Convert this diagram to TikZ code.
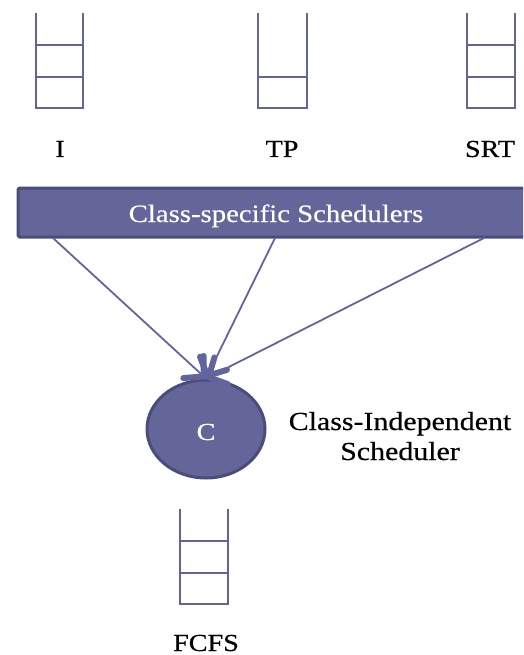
\documentclass[tikz,border=0pt]{standalone}
\usepackage{fontspec}
\setmainfont[FakeStretch=1.15,FakeBold=0.4]{Liberation Serif}
\usetikzlibrary{arrows.meta,shapes.geometric}
\definecolor{slate}{RGB}{98,100,158}
\definecolor{slatefill}{RGB}{100,102,153}
\definecolor{slateedge}{RGB}{74,76,122}
\tikzset{
  x=1pt, y=-1pt,
  qline/.style={draw=slate, line width=2pt},
  lbl/.style={font=\fontsize{24.5}{28}\selectfont, text=black, anchor=base, inner sep=0pt},
  feed/.style={draw=slate, line width=1.8pt,
    -{Straight Barb[length=14pt,width=30pt,line width=6pt,round]}},
}
% a queue drawn as an open-topped box
\newcommand{\queuebox}[4]{% left x, right x, top y, bottom y
  \draw[qline] (#1,#3) -- (#1,#4) -- (#2,#4) -- (#2,#3);
}
\begin{document}
\begin{tikzpicture}
\useasboundingbox (0,0) rectangle (523,655);
\clip (0,0) rectangle (523,655);

% class queues
\queuebox{36}{83}{13}{108}
\draw[qline] (36,45) -- (83,45);
\draw[qline] (36,77) -- (83,77);
\queuebox{258}{307}{13}{108}
\draw[qline] (258,77) -- (307,77);
\queuebox{467}{515}{13}{108}
\draw[qline] (467,45) -- (515,45);
\draw[qline] (467,77) -- (515,77);

\node[lbl] (lI) at (60,157) {I};
\node[lbl] (lTP) at (282,157) {TP};
\node[lbl] (lSRT) at (490,157) {SRT};

% class-specific scheduler bar
\draw[fill=slatefill, draw=slateedge, line width=3pt, rounded corners=1.5pt]
  (18,188) rectangle (540,237);
\node[font=\fontsize{25}{30}\selectfont, text=white, anchor=base, inner sep=0pt]
  (bar) at (276,222) {Class-specific Schedulers};

\coordinate (s1) at (53,238);
\coordinate (s2) at (275,238);
\coordinate (s3) at (484,238);

% class-independent scheduler
\node[ellipse, fill=slatefill, draw=slateedge, line width=3pt,
      minimum width=118pt, minimum height=98pt, inner sep=0pt] (C) at (206,429) {};
\node[font=\fontsize{24.5}{28}\selectfont, text=white, anchor=base, inner sep=0pt]
  (Clbl) at (206,440) {C};

\draw[feed] (s1) -- (C.north);
\draw[feed] (s2) -- (C.north);
\draw[feed] (s3) -- (C.north);

\node[font=\fontsize{26}{30}\selectfont, align=center, anchor=base, inner sep=0pt]
  (ci) at (400,460) {Class-Independent\\Scheduler};

% dispatch queue
\queuebox{180}{228}{509}{604}
\draw[qline] (180,541) -- (228,541);
\draw[qline] (180,573) -- (228,573);
\node[lbl] (lF) at (206,651) {FCFS};
\end{tikzpicture}
\end{document}
